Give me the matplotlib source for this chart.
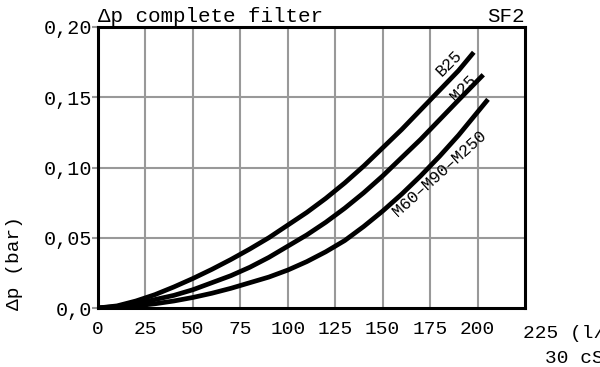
import numpy as np
import matplotlib
matplotlib.use('Agg')
import matplotlib.pyplot as plt

#--------- data ---------
x_b25 = [0, 10, 20, 30, 40, 50, 60, 70, 80, 90, 100, 110, 120, 130, 140, 150, 160, 170, 180, 190, 198]
dp_b25 = [0, 0.0015, 0.005, 0.0095, 0.015, 0.021, 0.0275, 0.0345, 0.042, 0.050, 0.059,
          0.068, 0.078, 0.089, 0.101, 0.114, 0.127, 0.141, 0.155, 0.169, 0.182]

x_m25 = [0, 10, 20, 30, 40, 50, 60, 70, 80, 90, 100, 110, 120, 130, 140, 150, 160, 170, 180, 190, 203]
dp_m25 = [0, 0.001, 0.003, 0.006, 0.009, 0.013, 0.018, 0.023, 0.029, 0.036, 0.044,
          0.052, 0.061, 0.071, 0.082, 0.094, 0.107, 0.120, 0.134, 0.148, 0.166]

x_m60 = [0, 10, 20, 30, 40, 50, 60, 70, 80, 90, 100, 110, 120, 130, 140, 150, 160, 170, 180, 190, 205.5]
dp_m60 = [0, 0.0005, 0.0015, 0.003, 0.005, 0.0075, 0.0105, 0.014, 0.018, 0.022, 0.027,
          0.033, 0.040, 0.048, 0.058, 0.069, 0.081, 0.094, 0.108, 0.123, 0.1485]

x_ticks = [0, 25, 50, 75, 100, 125, 150, 175, 200]
y_ticks = [0, 0.05, 0.10, 0.15, 0.20]
y_tick_labels = ['0,0', '0,05', '0,10', '0,15', '0,20']

#--------- style ---------
FONT = ['Liberation Mono', 'DejaVu Sans Mono']
plt.rcParams['font.family'] = FONT
GRID_C = '#999999'

fig = plt.figure(figsize=(6, 3.67), dpi=100)
ax = fig.add_axes([98/600, 1-308/367, (525-98)/600, (308-27)/367])

for xs, ys in [(x_b25, dp_b25), (x_m25, dp_m25), (x_m60, dp_m60)]:
    ax.plot(xs, ys, color='black', lw=3.4, solid_capstyle='butt',
            solid_joinstyle='round', zorder=3)

ax.set_xlim(0, 225)
ax.set_ylim(0, 0.2)

# grid lines
for gx in x_ticks[1:]:
    ax.axvline(gx, color=GRID_C, lw=1.5, zorder=1)
for gy in y_ticks[1:-1]:
    ax.axhline(gy, color=GRID_C, lw=1.5, zorder=1)

ax.set_xticks(x_ticks)
ax.set_xticklabels([str(v) for v in x_ticks])
ax.set_yticks(y_ticks)
ax.set_yticklabels(y_tick_labels)
ax.tick_params(axis='x', length=0, pad=9.5, labelsize=14)
ax.tick_params(axis='y', length=4.3, width=1.5, color=GRID_C, pad=0, labelsize=14.5)

for s in ax.spines.values():
    s.set_linewidth(2.2)
    s.set_color('black')
    s.set_zorder(4)

# curve labels
ax.text(185, 0.174, 'B25', rotation=45, ha='center', va='center', fontsize=12)
ax.text(192.5, 0.1566, 'M25', rotation=45, ha='center', va='center', fontsize=12)
ax.text(180, 0.0954, 'M60\u2013M90\u2013M250', rotation=42, ha='center', va='center', fontsize=12)

# titles and units (units run off the right edge as in the original)
fig.text(98/600, 1-22/367, '\u0394p complete filter', ha='left', va='baseline', fontsize=15)
fig.text(525/600, 1-22/367, 'SF2', ha='right', va='baseline', fontsize=15)
fig.text(15/600, 1-263/367, '\u0394p (bar)', rotation=90, ha='center', va='center', fontsize=14)
fig.text(523/600, 1-338/367, '225 (l/min)', ha='left', va='baseline', fontsize=14)
fig.text(545/600, 1-363/367, '30 cSt', ha='left', va='baseline', fontsize=14)

fig.savefig('out.png', dpi=100)
